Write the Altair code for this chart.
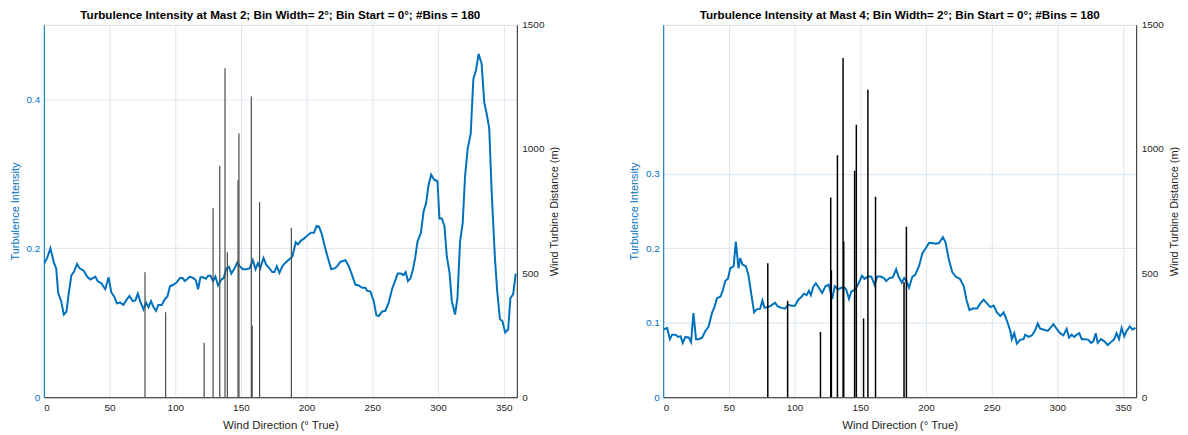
import altair as alt
import pandas as pd

# ---------------- Mast 2 ----------------
m2_dir = [0, 2.5, 5, 7.6, 9.4, 10.9, 13.2, 15.2, 17.2, 19, 21, 22.8, 25.3, 27.3, 30.3, 32.9, 35.4,
          39.2, 40.9, 43.7, 46.7, 49.3, 51.3, 53.6, 55.6, 58.1, 60.6, 62.6, 65.2, 67.7, 69.7, 71.5,
          73.3, 75.8, 77.8, 79.6, 81.6, 83.4, 85.4, 87.1, 89.7, 92.2, 94, 96, 98.5, 101, 103.6, 105.6,
          107.3, 109.4, 111.1, 113.7, 115.7, 117.4, 119.2, 121.2, 123.3, 125, 126.8, 128.8, 130.6,
          132.6, 135.1, 136.9, 138.9, 141, 142.7, 145.2, 147.3, 149, 151.5, 154.1, 156.6, 159.1,
          161.1, 162.9, 164.7, 167.2, 169.2, 171.7, 173.8, 175.5, 177.3, 179.3, 181.6, 184.1, 186.6,
          189.2, 191.7, 193.4, 195.5, 198, 200.5, 203.1, 205.6, 207.6, 209.4, 211.4, 213.9, 216.2,
          218.7, 221.3, 223.3, 225.8, 229.6, 232.1, 234.6, 237.2, 239.7, 242.2, 244.7, 246, 248.6,
          251.1, 253.1, 254.9, 257.4, 259.9, 262.5, 265, 267.5, 269.3, 271.8, 273.8, 275.4, 277.1,
          278.9, 280.9, 282.7, 284.4, 287, 289, 291, 292.8, 294.8, 297.1, 299.6, 301.1, 302.9, 304.9,
          306.7, 308.8, 310.5, 313, 314.8, 316.8, 318.8, 320.6, 322.6, 324.9, 326.9, 328.9, 330.9,
          333.2, 335.2, 337, 339, 340.8, 343.3, 345, 347.1, 349.1, 351.1, 353.4, 355.1, 357.2, 359.2]
m2_ti = [0.179, 0.187, 0.200, 0.181, 0.173, 0.140, 0.129, 0.111, 0.115, 0.140, 0.164, 0.168, 0.179,
         0.173, 0.170, 0.162, 0.158, 0.162, 0.156, 0.153, 0.145, 0.161, 0.141, 0.135, 0.126, 0.127,
         0.124, 0.130, 0.136, 0.129, 0.130, 0.139, 0.129, 0.118, 0.127, 0.121, 0.129, 0.121, 0.116,
         0.124, 0.124, 0.132, 0.135, 0.149, 0.151, 0.154, 0.160, 0.160, 0.156, 0.159, 0.162, 0.160,
         0.157, 0.145, 0.161, 0.161, 0.159, 0.163, 0.163, 0.156, 0.162, 0.150, 0.158, 0.160, 0.173,
         0.175, 0.166, 0.173, 0.181, 0.176, 0.172, 0.172, 0.173, 0.184, 0.172, 0.180, 0.173, 0.187,
         0.178, 0.173, 0.168, 0.168, 0.176, 0.167, 0.176, 0.181, 0.185, 0.189, 0.208, 0.205, 0.210,
         0.213, 0.217, 0.221, 0.221, 0.230, 0.229, 0.220, 0.202, 0.187, 0.172, 0.173, 0.176, 0.182,
         0.184, 0.176, 0.164, 0.151, 0.150, 0.147, 0.147, 0.143, 0.142, 0.129, 0.110, 0.109, 0.115,
         0.116, 0.127, 0.145, 0.157, 0.166, 0.166, 0.164, 0.168, 0.156, 0.159, 0.171, 0.188, 0.209,
         0.221, 0.249, 0.261, 0.285, 0.299, 0.292, 0.290, 0.240, 0.240, 0.230, 0.189, 0.167, 0.129,
         0.111, 0.133, 0.209, 0.234, 0.297, 0.334, 0.354, 0.427, 0.439, 0.461, 0.448, 0.396, 0.381,
         0.361, 0.278, 0.188, 0.144, 0.105, 0.102, 0.087, 0.091, 0.133, 0.138, 0.166]
m2_bar_dir = [77, 92.7, 122, 128.8, 133.9, 137.9, 139.7, 147.8, 148.5, 157.9, 158.6, 164.2, 188.4]
m2_bar_dist = [503, 342, 219, 761, 932, 1325, 584, 874, 1062, 1211, 289, 785, 683]

# ---------------- Mast 4 ----------------
m4_dir = [0.5, 3, 5.1, 6.8, 9.4, 11.4, 13.2, 14.9, 16.9, 19.5, 21.2, 23, 25, 27, 29.6, 32.1, 34.6,
          37.1, 39.2, 40.9, 43.5, 45.5, 47.2, 49.3, 51, 53.6, 55.3, 57.3, 58.6, 60.4, 62.9, 64.9,
          66.9, 69.2, 71.2, 73.8, 75.5, 77.1, 79.6, 82.1, 85.1, 87.1, 90.2, 92.7, 95.2, 97.8, 100.3,
          102.8, 105.3, 107.1, 109.1, 110.9, 112.4, 114.2, 116.2, 118.4, 121, 123.5, 126, 128.6,
          130.6, 133.1, 135.6, 138.1, 139.4, 141.4, 143.2, 145.7, 148.2, 151.3, 153.3, 155.8, 158.4,
          160.9, 162.9, 165.4, 168, 169.7, 172.2, 174.8, 177.3, 179.1, 181.6, 183.4, 185.1, 187.1,
          189.7, 191.7, 194.7, 197.2, 199.8, 202.3, 204.8, 207.3, 209.9, 212.9, 214.9, 217.4, 220,
          222.5, 225.8, 228.8, 230.8, 233.1, 235.6, 238.9, 241.4, 243.9, 246.4, 249, 251.5, 254,
          256.6, 259.1, 261.6, 264.2, 265.4, 267.2, 269.2, 271.7, 274.3, 275.5, 278, 280.6, 283.1,
          285.1, 286.9, 289.4, 292.7, 295.2, 297, 299.5, 302, 304.6, 307.1, 308.9, 310.9, 312.9,
          314.7, 316.7, 318.5, 321, 323.6, 325.6, 327.4, 329.2, 330.7, 333.2, 335.8, 338.3, 340.8,
          343.3, 345.1, 346.9, 348.9, 350.9, 352.7, 355.2, 357, 359.5]
m4_ti = [0.091, 0.093, 0.078, 0.084, 0.084, 0.081, 0.082, 0.073, 0.081, 0.080, 0.074, 0.113, 0.078,
         0.078, 0.080, 0.089, 0.095, 0.113, 0.122, 0.133, 0.135, 0.144, 0.156, 0.159, 0.173, 0.176,
         0.209, 0.173, 0.187, 0.178, 0.176, 0.164, 0.140, 0.114, 0.118, 0.119, 0.130, 0.120, 0.121,
         0.123, 0.127, 0.122, 0.120, 0.119, 0.124, 0.123, 0.123, 0.131, 0.135, 0.139, 0.137, 0.143,
         0.137, 0.148, 0.153, 0.147, 0.140, 0.149, 0.151, 0.132, 0.149, 0.145, 0.147, 0.147, 0.144,
         0.132, 0.142, 0.144, 0.151, 0.163, 0.159, 0.162, 0.162, 0.151, 0.162, 0.162, 0.160, 0.156,
         0.160, 0.161, 0.172, 0.162, 0.154, 0.160, 0.156, 0.147, 0.162, 0.164, 0.176, 0.193, 0.200,
         0.207, 0.207, 0.206, 0.207, 0.215, 0.208, 0.185, 0.168, 0.162, 0.159, 0.149, 0.131, 0.117,
         0.119, 0.119, 0.126, 0.131, 0.126, 0.121, 0.123, 0.114, 0.109, 0.114, 0.103, 0.089, 0.078,
         0.086, 0.072, 0.077, 0.078, 0.084, 0.081, 0.083, 0.090, 0.099, 0.092, 0.091, 0.089, 0.094,
         0.098, 0.092, 0.086, 0.083, 0.092, 0.080, 0.084, 0.081, 0.084, 0.086, 0.078, 0.078, 0.077,
         0.073, 0.075, 0.086, 0.073, 0.078, 0.075, 0.070, 0.074, 0.078, 0.086, 0.078, 0.093, 0.082,
         0.089, 0.095, 0.091, 0.093]
m4_bar_dir = [79.6, 94.7, 119.7, 127.5, 128, 132.6, 136.9, 137.4, 145.7, 147, 152.5, 155.8, 161.6, 183.3, 185.1]
m4_bar_dist = [540, 389, 263, 805, 513, 975, 1366, 627, 912, 1098, 317, 1239, 808, 464, 687]

FONT = "Liberation Sans"
BLUE = "#0072BD"
DARK = "#262626"


def panel(title, dirs, ti, bdirs, bdist, ti_ticks, bar_color, bar_width):
    line_df = pd.DataFrame({"dir": dirs, "ti": ti})
    bar_df = pd.DataFrame({"dir": bdirs, "dist": bdist})
    x = alt.X("dir:Q", scale=alt.Scale(domain=[0, 360], nice=False, zero=False),
              axis=alt.Axis(title="Wind Direction (° True)", values=list(range(0, 360, 50)),
                            grid=True, gridColor="#e1e4e8", gridWidth=1, ticks=False,
                            domainColor=DARK, labelColor=DARK, titleColor=DARK,
                            labelFontSize=10, titleFontSize=11.5, labelPadding=5, titlePadding=7,
                            titleFontWeight="normal", labelFont=FONT, titleFont=FONT))
    line = alt.Chart(line_df).mark_line(color=BLUE, strokeWidth=2, clip=True).encode(
        x=x,
        y=alt.Y("ti:Q", scale=alt.Scale(domain=[0, 0.5], nice=False),
                axis=alt.Axis(title="Turbulence Intensity", orient="left", values=ti_ticks,
                              format="~g", grid=True, gridColor="#dcebf6", gridWidth=1.2,
                              ticks=False, domainColor=BLUE, labelColor=BLUE, titleColor=BLUE,
                              labelFontSize=10, titleFontSize=11, labelPadding=4, titlePadding=6,
                              titleFontWeight="normal", labelFont=FONT, titleFont=FONT)),
    )
    bars = alt.Chart(bar_df).mark_rule(color=bar_color, strokeWidth=bar_width, clip=True).encode(
        x=alt.X("dir:Q"),
        y=alt.Y("dist:Q", scale=alt.Scale(domain=[0, 1500], nice=False),
                axis=alt.Axis(title="Wind Turbine Distance (m)", orient="right",
                              values=[0, 500, 1000, 1500], format="d", grid=False, ticks=False,
                              domainColor=DARK, labelColor=DARK, titleColor=DARK,
                              labelFontSize=10, titleFontSize=11, labelPadding=5, titlePadding=5,
                              titleAngle=270, titleBaseline="top",
                              titleFontWeight="normal", labelFont=FONT, titleFont=FONT)),
        y2=alt.datum(0),
    )
    return alt.layer(line, bars).resolve_scale(y="independent").properties(
        width=475, height=374,
        title=alt.TitleParams(title, fontSize=11.7, fontWeight="bold", font=FONT,
                              color="#000000", anchor="middle", offset=-2),
    )


left = panel("Turbulence Intensity at Mast 2; Bin Width= 2°; Bin Start = 0°; #Bins = 180",
             m2_dir, m2_ti, m2_bar_dir, m2_bar_dist, [0, 0.2, 0.4], "#4a4a4a", 1.2)
right = panel("Turbulence Intensity at Mast 4; Bin Width= 2°; Bin Start = 0°; #Bins = 180",
              m4_dir, m4_ti, m4_bar_dir, m4_bar_dist, [0, 0.1, 0.2, 0.3], "#000000", 1.5)

chart = alt.hconcat(left, right, spacing=67).properties(padding=0).configure_view(
    stroke=DARK, strokeWidth=1
).configure(background="white")

chart.save("out.html", embed_options={"renderer": "svg", "actions": False})
